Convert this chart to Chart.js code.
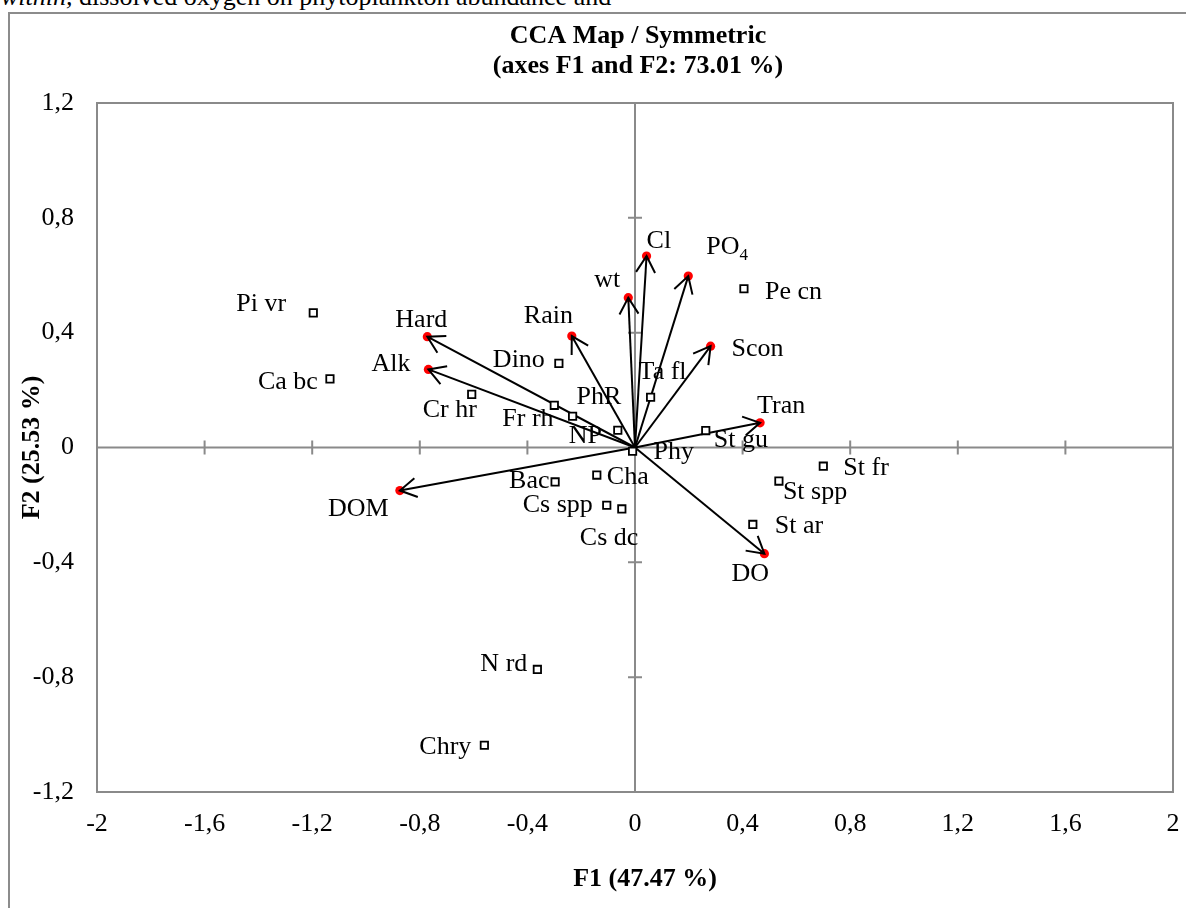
<!DOCTYPE html>
<html><head><meta charset="utf-8">
<script src="https://cdn.jsdelivr.net/npm/chart.js@4.4.0/dist/chart.umd.min.js"></script>
<style>
html,body{margin:0;padding:0;background:#fff;overflow:hidden;}
#wrap{position:relative;width:1186px;height:908px;overflow:hidden;}
#frame{position:absolute;left:8px;top:12px;width:1300px;height:1000px;border:2px solid #8c8c8c;box-sizing:border-box;}
#toptext{position:absolute;left:1px;top:-18px;font-family:"Liberation Serif",serif;font-size:26px;line-height:30px;white-space:nowrap;color:#000;}
canvas{position:absolute;left:0;top:0;}
</style></head>
<body><div id="wrap"><div id="toptext"><i>within,</i> dissolved oxygen on phytoplankton abundance and</div><div id="frame"></div><canvas id="c" width="1186" height="908"></canvas></div>
<script>
// ---------- DATA ----------
const envNames = ['Cl','PO4','wt','Rain','Scon','Tran','Hard','Alk','DOM','DO'];
const envF1 = [0.043, 0.198, -0.025, -0.235, 0.281, 0.465, -0.772, -0.768, -0.874, 0.481];
const envF2 = [0.667, 0.597, 0.522, 0.388, 0.353, 0.086, 0.386, 0.272, -0.150, -0.370];

const spNames = ['Pi vr','Ca bc','Cr hr','Dino','Fr rh','PhR','NP','Ta fl','Pe cn','St gu','Phy','Cha','Bac','Cs spp','Cs dc','St fr','St spp','St ar','N rd','Chry'];
const spF1 = [-1.196, -1.134, -0.607, -0.283, -0.300, -0.232, -0.064, 0.058, 0.405, 0.263, -0.009, -0.142, -0.297, -0.105, -0.049, 0.700, 0.535, 0.438, -0.363, -0.560];
const spF2 = [0.469, 0.239, 0.185, 0.293, 0.147, 0.109, 0.060, 0.175, 0.553, 0.059, -0.013, -0.096, -0.120, -0.201, -0.214, -0.065, -0.117, -0.268, -0.773, -1.037];

const xTicks = [-2, -1.6, -1.2, -0.8, -0.4, 0, 0.4, 0.8, 1.2, 1.6, 2];
const yTicks = [-1.2, -0.8, -0.4, 0, 0.4, 0.8, 1.2];

const titleLines = ['CCA Map / Symmetric', '(axes F1 and F2: 73.01 %)'];
const xTitle = 'F1 (47.47 %)';
const yTitle = 'F2 (25.53 %)';

// ---------- LAYOUT (label offsets in px: left, baseline) ----------
const labelOffsets = {
  'Cl':[0,-8],'PO4':[18,-22],'wt':[-34,-11],'Rain':[-48,-13],'Scon':[21,10],'Tran':[-3,-10],
  'Hard':[-32,-10],'Alk':[-57,2],'DOM':[-72,25],'DO':[-33,27],
  'Pi vr':[-77,-2],'Ca bc':[-72,10],'Cr hr':[-49,23],'Dino':[-66,4],'Fr rh':[-52,21],'PhR':[4,-12],
  'NP':[-49,13],'Ta fl':[-12,-18],'Pe cn':[21,10],'St gu':[8,16],'Phy':[21,8],'Cha':[10,9],
  'Bac':[-46,6],'Cs spp':[-84,7],'Cs dc':[-42,36],'St fr':[20,9],'St spp':[4,18],'St ar':[22,9],
  'N rd':[-57,2],'Chry':[-65,9]
};

const GRAY = '#8a8a8a';
const FONT = '"Liberation Serif", "Times New Roman", serif';
const fmt = v => String(Math.round(v * 10) / 10).replace('.', ',');

const datasets = [];
datasets.push({
  label: 'species',
  data: spF1.map((x, i) => ({x: x, y: spF2[i]})),
  pointStyle: 'rect', pointRadius: 5.2, borderWidth: 1.8,
  borderColor: '#000', backgroundColor: '#fff', showLine: false, labelsList: spNames
});
envNames.forEach((n, i) => {
  datasets.push({
    label: 'arrow-' + n, isArrow: true,
    data: [{x: 0, y: 0}, {x: envF1[i], y: envF2[i]}],
    showLine: true, borderColor: '#000', borderWidth: 2, pointRadius: 0, fill: false
  });
});
datasets.push({
  label: 'env',
  data: envF1.map((x, i) => ({x: x, y: envF2[i]})),
  pointStyle: 'circle', pointRadius: 4.6, borderWidth: 0,
  backgroundColor: '#ff0000', borderColor: '#ff0000', showLine: false, labelsList: envNames
});

const ccaPlugin = {
  id: 'cca',
  beforeDatasetsDraw(chart) {
    const {ctx, chartArea: a, scales: {x, y}} = chart;
    ctx.save();
    ctx.strokeStyle = GRAY; ctx.lineWidth = 2;
    ctx.strokeRect(a.left, a.top, a.right - a.left, a.bottom - a.top);
    const x0 = x.getPixelForValue(0), y0 = y.getPixelForValue(0);
    ctx.beginPath();
    ctx.moveTo(a.left, y0); ctx.lineTo(a.right, y0);
    ctx.moveTo(x0, a.top); ctx.lineTo(x0, a.bottom);
    xTicks.forEach(v => { if (v !== 0 && Math.abs(v) < 2) { const px = x.getPixelForValue(v); ctx.moveTo(px, y0 - 7); ctx.lineTo(px, y0 + 7); } });
    yTicks.forEach(v => { if (v !== 0 && Math.abs(v) < 1.2) { const py = y.getPixelForValue(v); ctx.moveTo(x0 - 7, py); ctx.lineTo(x0 + 7, py); } });
    ctx.stroke();
    ctx.restore();
  },
  afterDatasetsDraw(chart) {
    const {ctx} = chart;
    ctx.save();
    ctx.strokeStyle = '#000'; ctx.lineWidth = 2; ctx.lineCap = 'butt';
    chart.data.datasets.forEach((ds, di) => {
      if (!ds.isArrow) return;
      const pts = chart.getDatasetMeta(di).data;
      const o = pts[0], t = pts[1];
      const ang = Math.atan2(o.y - t.y, o.x - t.x);
      const L = 19, h = Math.PI / 6;
      ctx.beginPath();
      ctx.moveTo(t.x + L * Math.cos(ang + h), t.y + L * Math.sin(ang + h));
      ctx.lineTo(t.x, t.y);
      ctx.lineTo(t.x + L * Math.cos(ang - h), t.y + L * Math.sin(ang - h));
      ctx.stroke();
    });
    ctx.fillStyle = '#000'; ctx.textAlign = 'left'; ctx.textBaseline = 'alphabetic';
    chart.data.datasets.forEach((ds, di) => {
      if (!ds.labelsList) return;
      const pts = chart.getDatasetMeta(di).data;
      ds.labelsList.forEach((name, j) => {
        const off = labelOffsets[name] || [6, -6];
        const px = pts[j].x + off[0], py = pts[j].y + off[1];
        ctx.font = '26px ' + FONT;
        if (name === 'PO4') {
          ctx.fillText('PO', px, py);
          const w = ctx.measureText('PO').width;
          ctx.font = '17px ' + FONT;
          ctx.fillText('4', px + w, py + 6);
        } else {
          ctx.fillText(name, px, py);
        }
      });
    });
    ctx.font = 'bold 26px ' + FONT; ctx.textAlign = 'center';
    ctx.fillText(titleLines[0], 638, 43);
    ctx.fillText(titleLines[1], 638, 73);
    ctx.fillText(xTitle, 645, 886);
    ctx.translate(38.5, 447.5); ctx.rotate(-Math.PI / 2);
    ctx.fillText(yTitle, 0, 0);
    ctx.restore();
  }
};

new Chart(document.getElementById('c'), {
  type: 'scatter',
  data: {datasets: datasets},
  options: {
    responsive: false, animation: false, devicePixelRatio: 1,
    layout: {padding: {top: 103, right: 13, left: 0, bottom: 0}},
    plugins: {legend: {display: false}, tooltip: {enabled: false}, title: {display: false}},
    scales: {
      x: {
        type: 'linear', min: -2, max: 2,
        afterBuildTicks: s => { s.ticks = xTicks.map(v => ({value: v})); },
        afterFit: s => { s.height = 116; s.paddingLeft = 0; s.paddingRight = 0; },
        grid: {display: false, drawTicks: false}, border: {display: false},
        ticks: {color: '#000', font: {family: FONT, size: 26}, padding: 17, maxRotation: 0, autoSkip: false, callback: v => fmt(v)}
      },
      y: {
        type: 'linear', min: -1.2, max: 1.2,
        afterBuildTicks: s => { s.ticks = yTicks.map(v => ({value: v})); },
        afterFit: s => { s.width = 97; s.paddingTop = 0; s.paddingBottom = 0; },
        grid: {display: false, drawTicks: false}, border: {display: false},
        ticks: {color: '#000', font: {family: FONT, size: 26}, padding: 23, autoSkip: false, callback: v => fmt(v)}
      }
    }
  },
  plugins: [ccaPlugin]
});
</script>
</body></html>
